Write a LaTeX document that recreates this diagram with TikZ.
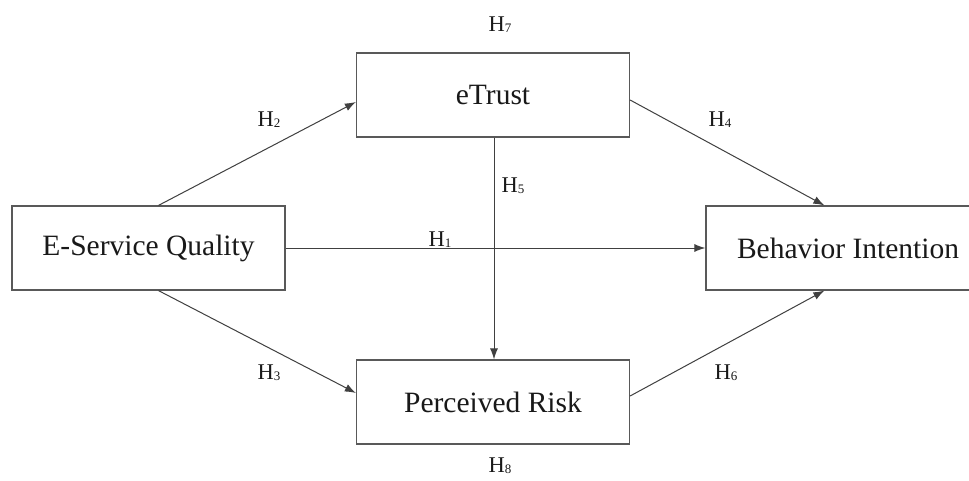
\documentclass[tikz,border=0pt]{standalone}
\usepackage{fontspec}
\setmainfont{Liberation Serif}
\usetikzlibrary{arrows.meta}
\newcommand{\hyp}[1]{H\raisebox{-1pt}{\fontsize{13}{13}\selectfont #1}}
\tikzset{
  x=1pt, y=-1pt,
  box/.style={draw=black!65, line width=1.2pt, rectangle, minimum width=273pt, minimum height=84pt, inner sep=0pt,
    font=\fontsize{29.5}{34}\selectfont, text=black!90},
  conn/.style={draw=black!75, line width=1pt, -{Latex[length=11pt,width=8pt]}},
  hlab/.style={font=\fontsize{22.5}{26}\selectfont, text=black!90, inner sep=0pt}
}
\begin{document}
\begin{tikzpicture}
\clip (0,0) rectangle (969,481);
\fill[white] (0,0) rectangle (969,481);
\node[box] (et) at (493,95) {eTrust};
\node[box] (pr) at (493,402) {Perceived Risk};
\node[box] (esq) at (148.5,248) {E-Service Quality};
\node[box, minimum width=284pt] (bi) at (848,248) {Behavior Intention};

\draw[conn] ([xshift=10pt]esq.north) -- ([yshift=-7pt]et.west);
\draw[conn] ([xshift=10pt]esq.south) -- ([yshift=9pt]pr.west);
\draw[conn] (esq.east) -- (bi.west);
\draw[conn] ([xshift=1pt]et.south) -- ([xshift=1pt]pr.north);
\draw[conn] ([yshift=-5pt]et.east) -- ([xshift=119pt]bi.north west);
\draw[conn] ([yshift=6pt]pr.east) -- ([xshift=119pt]bi.south west);

\node[hlab] (h7) at (500,25) {\hyp{7}};
\node[hlab] (h8) at (500,466) {\hyp{8}};
\node[hlab] (h1) at (440,240) {\hyp{1}};
\node[hlab] (h2) at (269,120) {\hyp{2}};
\node[hlab] (h3) at (269,373) {\hyp{3}};
\node[hlab] (h4) at (720,120) {\hyp{4}};
\node[hlab] (h5) at (513,186) {\hyp{5}};
\node[hlab] (h6) at (726,373) {\hyp{6}};
\end{tikzpicture}
\end{document}
